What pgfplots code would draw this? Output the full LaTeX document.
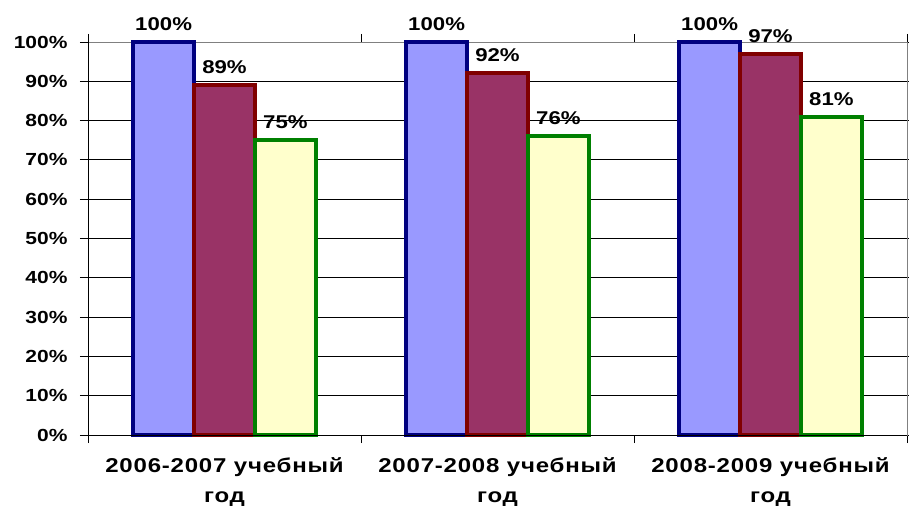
\documentclass[border=0pt]{standalone}
\usepackage{pgfplots}
\pgfplotsset{compat=1.18}
\usepackage{fontspec}
\setmainfont{Liberation Sans}[FakeStretch=1.2]
\newfontfamily\catfont{Liberation Sans}[FakeStretch=1.2,LetterSpace=4]

\definecolor{bluefill}{HTML}{9999FF}
\definecolor{blueedge}{HTML}{000080}
\definecolor{redfill}{HTML}{993366}
\definecolor{rededge}{HTML}{800000}
\definecolor{yelfill}{HTML}{FFFFCC}
\definecolor{yeledge}{HTML}{008000}

\begin{document}
\begin{tikzpicture}
\useasboundingbox (-88pt,-73pt) rectangle (821pt,435pt);
\begin{axis}[
    scale only axis,
    width=819pt, height=393pt,
    xmin=-0.5, xmax=2.5,
    ymin=0, ymax=100,
    ytick={0,10,...,100},
    yticklabels={0\%,10\%,20\%,30\%,40\%,50\%,60\%,70\%,80\%,90\%,100\%},
    xtick={0,1,2},
    xticklabels={{2006-2007 учебный\\год},{2007-2008 учебный\\год},{2008-2009 учебный\\год}},
    minor xtick={-0.5,0.5,1.5,2.5},
    x tick style={draw=none},
    minor x tick style={draw=black, line width=0.8pt},
    y tick style={black, line width=0.8pt},
    tick align=outside,
    major tick length=8pt,
    minor tick length=8pt,
    ymajorgrids,
    grid style={black, line width=0.9pt},
    axis line style={gray, line width=0.8pt},
    clip=false,
    yticklabel style={font=\bfseries\fontsize{17.5}{20}\selectfont, xshift=-9pt},
    xticklabel style={font=\catfont\bfseries\fontsize{20}{30}\selectfont, align=center, yshift=-11pt},
    ybar,
    bar width=0.223,
    nodes near coords={\pgfmathprintnumber{\pgfplotspointmeta}\%},
    nodes near coords style={font=\bfseries\fontsize{18.5}{20}\selectfont, black, yshift=6pt},
    /pgf/number format/assume math mode=true,
]
\addplot[bar shift=-0.223, fill=bluefill, draw=blueedge, line width=4pt]
    coordinates {(0,100) (1,100) (2,100)};
\addplot[bar shift=0, fill=redfill, draw=rededge, line width=4pt]
    coordinates {(0,89) (1,92) (2,97)};
\addplot[bar shift=0.223, fill=yelfill, draw=yeledge, line width=4pt]
    coordinates {(0,75) (1,76) (2,81)};
\draw[black, line width=0.9pt] (rel axis cs:0,0) -- (rel axis cs:0,1);
\draw[black, line width=0.9pt] (rel axis cs:0,0) -- (rel axis cs:1,0);
\end{axis}
\end{tikzpicture}
\end{document}
